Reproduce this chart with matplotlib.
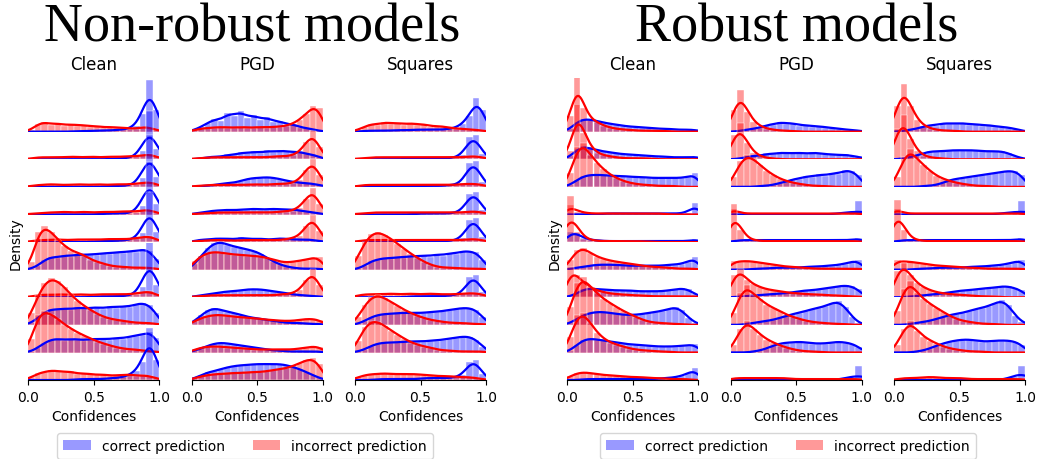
import numpy as np
import pandas as pd
import matplotlib
matplotlib.use("Agg")
import matplotlib.pyplot as plt
from matplotlib.patches import Patch
import seaborn as sns

groups = ["Non-robust models", "Robust models"]
attacks = ["Clean", "PGD", "Squares"]
labels = ["correct prediction", "incorrect prediction"]

# bar heights of 20 confidence bins (0.00-0.05, ..., 0.95-1.00), one list per ridge (10 ridges)
nr_clean_correct = [
    [0, 0, 0, 0, 0, 0, 0, 1, 0, 1, 1, 1, 1, 2, 2, 3, 6, 18, 52, 22],
    [0, 0, 0, 0, 0, 0, 0, 0, 0, 0, 0, 0, 0, 1, 1, 1, 2, 8, 48, 10],
    [0, 0, 0, 0, 0, 0, 0, 0, 0, 0, 0, 0, 1, 1, 1, 1, 2, 9, 52, 10],
    [0, 0, 0, 0, 0, 0, 0, 0, 0, 0, 0, 1, 1, 1, 1, 1, 2, 9, 53, 11],
    [0, 0, 0, 0, 0, 0, 0, 0, 0, 0, 1, 1, 1, 1, 2, 2, 3, 9, 50, 10],
    [1, 4, 10, 13, 12, 15, 13, 16, 14, 16, 15, 17, 16, 18, 17, 19, 18, 21, 19, 11],
    [0, 0, 0, 0, 0, 0, 0, 0, 0, 0, 1, 1, 1, 1, 1, 2, 2, 10, 56, 12],
    [2, 7, 13, 16, 15, 17, 15, 18, 16, 17, 18, 16, 19, 17, 19, 18, 21, 22, 20, 12],
    [1, 5, 10, 13, 14, 12, 14, 13, 12, 14, 13, 14, 13, 15, 14, 16, 17, 18, 21, 15],
    [0, 0, 0, 0, 0, 0, 0, 1, 1, 1, 1, 1, 2, 2, 3, 5, 9, 18, 52, 20],
]
nr_clean_incorrect = [
    [2, 8, 10, 7, 9, 6, 8, 6, 7, 5, 6, 4, 5, 4, 4, 3, 3, 5, 4, 2],
    [1, 2, 2, 2, 2, 2, 3, 2, 2, 3, 2, 2, 3, 2, 3, 3, 3, 4, 5, 3],
    [1, 2, 2, 3, 2, 2, 2, 3, 2, 2, 3, 2, 2, 3, 2, 3, 3, 4, 5, 3],
    [1, 1, 2, 2, 2, 3, 2, 2, 3, 2, 2, 3, 2, 3, 3, 3, 3, 4, 5, 2],
    [1, 2, 2, 2, 3, 2, 2, 3, 2, 3, 2, 3, 3, 3, 3, 3, 4, 5, 6, 3],
    [8, 38, 44, 38, 30, 24, 19, 17, 15, 10, 8, 6, 4, 3, 3, 2, 2, 2, 2, 1],
    [1, 2, 3, 2, 3, 3, 2, 3, 3, 2, 3, 3, 3, 3, 3, 3, 4, 5, 6, 3],
    [12, 30, 42, 47, 44, 38, 30, 24, 19, 15, 11, 8, 6, 5, 4, 3, 2, 2, 2, 1],
    [14, 38, 42, 38, 34, 28, 24, 20, 17, 14, 11, 9, 7, 5, 4, 3, 3, 2, 1, 1],
    [3, 7, 8, 10, 9, 8, 9, 6, 7, 6, 5, 6, 4, 5, 5, 6, 4, 5, 4, 2],
]
nr_pgd_correct = [
    [2, 5, 9, 13, 11, 19, 16, 21, 14, 17, 12, 15, 10, 11, 7, 8, 4, 4, 2, 1],
    [0, 1, 2, 3, 2, 5, 4, 7, 6, 8, 6, 9, 7, 9, 8, 7, 8, 5, 5, 2],
    [0, 1, 1, 2, 3, 4, 4, 6, 8, 9, 9, 10, 9, 8, 6, 5, 4, 4, 3, 2],
    [1, 2, 3, 4, 4, 5, 4, 5, 5, 6, 5, 5, 6, 5, 5, 5, 4, 3, 2, 1],
    [1, 3, 2, 4, 3, 4, 2, 5, 3, 3, 4, 2, 3, 4, 3, 3, 2, 3, 2, 1],
    [6, 14, 22, 27, 28, 25, 23, 22, 20, 19, 16, 12, 8, 5, 3, 2, 1, 1, 1, 1],
    [1, 2, 3, 4, 5, 6, 6, 7, 8, 8, 8, 7, 6, 5, 4, 3, 2, 2, 1, 1],
    [4, 10, 15, 17, 15, 13, 12, 10, 8, 7, 6, 5, 4, 3, 2, 2, 2, 1, 1, 1],
    [2, 4, 7, 9, 10, 9, 8, 7, 6, 5, 4, 3, 2, 2, 1, 1, 1, 1, 1, 1],
    [2, 5, 8, 9, 11, 13, 14, 15, 15, 16, 16, 16, 16, 16, 15, 13, 11, 8, 5, 2],
]
nr_pgd_incorrect = [
    [2, 3, 4, 4, 5, 4, 4, 5, 4, 4, 5, 4, 5, 5, 6, 8, 12, 18, 26, 24],
    [1, 1, 2, 2, 2, 2, 2, 2, 2, 2, 2, 2, 3, 3, 3, 4, 7, 17, 28, 12],
    [1, 1, 2, 2, 2, 2, 2, 2, 2, 3, 2, 2, 3, 3, 3, 4, 7, 17, 28, 12],
    [1, 1, 1, 2, 2, 2, 2, 2, 2, 2, 2, 2, 2, 3, 3, 4, 7, 16, 27, 11],
    [1, 1, 2, 2, 2, 2, 1, 2, 2, 2, 2, 2, 2, 2, 3, 4, 6, 16, 27, 11],
    [9, 14, 17, 18, 17, 16, 15, 15, 14, 14, 13, 12, 10, 8, 7, 8, 9, 10, 12, 13],
    [1, 1, 2, 2, 2, 2, 2, 2, 2, 2, 2, 2, 2, 3, 3, 4, 7, 17, 28, 12],
    [4, 7, 9, 10, 10, 9, 8, 8, 7, 7, 6, 5, 5, 4, 4, 4, 5, 6, 6, 5],
    [3, 5, 6, 6, 6, 5, 5, 4, 4, 3, 3, 3, 3, 3, 3, 3, 4, 5, 6, 6],
    [2, 4, 5, 6, 6, 7, 7, 7, 8, 8, 8, 9, 10, 11, 12, 14, 17, 20, 22, 16],
]
nr_sq_correct = [
    [0, 1, 1, 1, 1, 1, 2, 1, 2, 2, 2, 2, 2, 2, 3, 4, 8, 16, 34, 22],
    [0, 0, 0, 0, 0, 0, 0, 0, 1, 1, 1, 1, 1, 1, 1, 2, 4, 22, 24, 5],
    [0, 0, 0, 0, 0, 0, 0, 0, 1, 1, 1, 1, 1, 1, 2, 2, 4, 24, 26, 5],
    [0, 0, 0, 0, 0, 0, 0, 0, 0, 1, 1, 1, 1, 1, 1, 2, 3, 21, 23, 5],
    [0, 0, 0, 0, 0, 0, 0, 0, 0, 1, 1, 1, 1, 1, 1, 2, 4, 22, 24, 5],
    [1, 4, 9, 10, 12, 11, 13, 12, 14, 13, 15, 13, 16, 14, 17, 16, 19, 18, 18, 10],
    [0, 0, 0, 0, 0, 0, 0, 0, 1, 1, 1, 1, 1, 1, 2, 2, 4, 20, 22, 5],
    [1, 4, 8, 10, 11, 11, 12, 12, 12, 12, 12, 13, 13, 14, 15, 16, 17, 17, 15, 8],
    [1, 3, 7, 9, 10, 10, 10, 11, 11, 11, 11, 12, 12, 13, 14, 15, 16, 16, 13, 6],
    [0, 0, 0, 1, 1, 1, 1, 1, 1, 1, 2, 2, 2, 2, 2, 3, 5, 18, 20, 6],
]
nr_sq_incorrect = [
    [2, 5, 8, 7, 10, 8, 9, 7, 9, 7, 8, 5, 6, 5, 4, 3, 3, 2, 2, 1],
    [1, 1, 2, 2, 2, 2, 2, 2, 2, 2, 2, 2, 2, 2, 2, 2, 2, 3, 3, 2],
    [1, 2, 2, 2, 2, 2, 2, 2, 2, 2, 2, 2, 2, 2, 2, 2, 3, 3, 3, 2],
    [1, 1, 2, 2, 2, 2, 2, 2, 2, 2, 2, 2, 2, 2, 2, 2, 2, 3, 3, 2],
    [1, 2, 2, 2, 2, 2, 2, 2, 2, 2, 2, 2, 2, 2, 2, 2, 2, 3, 3, 2],
    [14, 28, 36, 38, 35, 31, 26, 21, 16, 12, 8, 5, 3, 2, 2, 2, 1, 1, 1, 1],
    [2, 3, 3, 3, 3, 4, 3, 3, 4, 3, 3, 4, 3, 3, 3, 3, 4, 4, 4, 3],
    [8, 20, 28, 30, 27, 23, 19, 15, 12, 9, 7, 5, 4, 3, 2, 2, 2, 1, 1, 1],
    [12, 26, 32, 31, 27, 22, 18, 14, 10, 8, 6, 5, 3, 2, 2, 1, 1, 1, 1, 1],
    [3, 5, 6, 6, 7, 6, 6, 6, 6, 6, 5, 5, 4, 4, 4, 3, 3, 3, 2, 1],
]
r_clean_correct = [
    [3, 10, 13, 12, 11, 9, 8, 7, 6, 5, 5, 4, 4, 3, 3, 3, 2, 2, 2, 2],
    [3, 10, 13, 11, 9, 8, 7, 6, 5, 5, 4, 4, 3, 3, 3, 2, 2, 2, 2, 3],
    [2, 7, 11, 12, 12, 12, 11, 11, 11, 10, 10, 10, 9, 9, 9, 9, 9, 9, 10, 14],
    [0, 0, 0, 0, 0, 1, 1, 1, 1, 1, 1, 1, 1, 1, 1, 1, 1, 1, 2, 12],
    [10, 9, 4, 2, 2, 1, 1, 1, 1, 1, 1, 1, 1, 1, 1, 1, 1, 1, 1, 3],
    [1, 2, 3, 4, 5, 5, 5, 5, 4, 4, 4, 4, 4, 4, 4, 5, 5, 6, 8, 13],
    [1, 4, 8, 9, 8, 8, 7, 7, 7, 7, 6, 6, 6, 6, 6, 7, 8, 9, 8, 3],
    [2, 6, 10, 12, 13, 13, 12, 11, 10, 10, 10, 11, 12, 13, 14, 16, 18, 15, 7, 2],
    [2, 8, 13, 14, 13, 12, 11, 10, 9, 8, 8, 7, 7, 6, 6, 6, 6, 7, 7, 9],
    [0, 0, 1, 1, 1, 1, 1, 1, 1, 1, 1, 1, 1, 1, 2, 2, 3, 4, 7, 12],
]
r_clean_incorrect = [
    [16, 58, 24, 12, 10, 6, 4, 3, 2, 2, 1, 1, 1, 1, 1, 0, 0, 0, 0, 0],
    [8, 60, 26, 12, 6, 4, 3, 2, 1, 1, 1, 1, 1, 0, 0, 0, 0, 0, 0, 0],
    [14, 40, 44, 32, 24, 18, 12, 9, 6, 4, 3, 2, 2, 1, 1, 1, 1, 0, 0, 0],
    [10, 3, 2, 1, 1, 1, 1, 1, 1, 1, 1, 1, 1, 1, 1, 0, 0, 0, 0, 0],
    [46, 10, 3, 2, 1, 1, 1, 1, 1, 1, 1, 1, 0, 0, 0, 0, 0, 0, 0, 0],
    [10, 20, 22, 17, 13, 11, 9, 8, 7, 6, 5, 4, 3, 3, 2, 2, 1, 1, 1, 1],
    [30, 22, 14, 10, 7, 5, 4, 3, 3, 2, 2, 2, 1, 1, 1, 1, 1, 1, 1, 1],
    [18, 42, 48, 38, 32, 26, 22, 18, 14, 11, 8, 5, 3, 2, 2, 1, 1, 1, 0, 0],
    [16, 38, 40, 30, 20, 14, 10, 8, 6, 4, 3, 2, 2, 1, 1, 1, 0, 0, 0, 0],
    [4, 7, 8, 7, 6, 5, 5, 4, 4, 3, 3, 3, 2, 2, 2, 1, 1, 1, 1, 0],
]
r_pgd_correct = [
    [0, 1, 2, 3, 4, 7, 7, 10, 8, 9, 6, 7, 5, 6, 4, 4, 3, 2, 2, 1],
    [0, 1, 2, 4, 3, 6, 5, 7, 6, 6, 7, 5, 7, 6, 5, 5, 4, 5, 3, 3],
    [0, 0, 0, 0, 1, 1, 2, 4, 5, 8, 8, 11, 10, 13, 11, 14, 13, 17, 16, 12],
    [0, 0, 0, 0, 0, 0, 0, 0, 0, 0, 0, 0, 0, 0, 0, 0, 0, 0, 1, 14],
    [1, 2, 2, 2, 2, 2, 2, 2, 2, 2, 2, 2, 2, 2, 2, 2, 2, 2, 2, 4],
    [0, 0, 0, 1, 1, 1, 2, 2, 2, 2, 2, 3, 3, 3, 4, 4, 5, 6, 8, 10],
    [0, 1, 1, 2, 2, 3, 3, 4, 4, 5, 6, 7, 7, 8, 9, 10, 11, 12, 11, 8],
    [0, 0, 1, 2, 3, 4, 5, 7, 9, 11, 12, 14, 16, 17, 19, 22, 24, 18, 8, 2],
    [0, 0, 0, 1, 2, 4, 7, 9, 10, 10, 11, 10, 9, 9, 9, 10, 11, 10, 9, 6],
    [0, 0, 0, 0, 0, 0, 0, 0, 0, 0, 0, 0, 0, 0, 0, 0, 0, 0, 2, 14],
]
r_pgd_incorrect = [
    [22, 42, 20, 10, 5, 3, 2, 1, 1, 1, 0, 0, 0, 0, 0, 0, 0, 0, 0, 0],
    [24, 36, 16, 6, 3, 1, 1, 0, 0, 0, 0, 0, 0, 0, 0, 0, 0, 0, 0, 0],
    [10, 26, 32, 28, 22, 16, 12, 8, 6, 4, 3, 2, 1, 1, 1, 0, 0, 0, 0, 0],
    [6, 1, 1, 1, 1, 1, 1, 1, 1, 1, 1, 1, 1, 1, 1, 1, 1, 1, 1, 1],
    [38, 12, 3, 2, 1, 1, 1, 1, 1, 1, 1, 1, 1, 1, 1, 1, 1, 1, 1, 1],
    [9, 8, 9, 8, 7, 6, 5, 4, 3, 3, 2, 2, 1, 1, 1, 1, 1, 1, 1, 1],
    [22, 28, 17, 13, 10, 8, 7, 6, 5, 4, 4, 3, 3, 3, 2, 2, 2, 1, 1, 1],
    [12, 32, 40, 30, 26, 20, 17, 14, 10, 8, 6, 4, 3, 2, 2, 1, 1, 1, 0, 0],
    [8, 24, 32, 24, 18, 13, 10, 7, 5, 3, 2, 1, 1, 1, 0, 0, 0, 0, 0, 0],
    [2, 2, 2, 2, 2, 2, 2, 2, 2, 1, 1, 1, 1, 1, 1, 1, 1, 1, 1, 1],
]
r_sq_correct = [
    [0, 1, 2, 3, 5, 7, 6, 9, 8, 8, 9, 7, 8, 6, 7, 5, 5, 4, 3, 1],
    [0, 1, 2, 4, 6, 8, 8, 8, 9, 9, 9, 9, 9, 8, 8, 8, 8, 6, 3, 1],
    [0, 0, 0, 0, 1, 1, 2, 4, 7, 8, 9, 10, 11, 12, 13, 14, 15, 16, 16, 12],
    [0, 0, 0, 0, 0, 0, 0, 0, 0, 0, 0, 0, 0, 0, 0, 0, 0, 0, 1, 14],
    [1, 2, 2, 2, 2, 2, 2, 2, 2, 2, 2, 2, 2, 2, 2, 2, 2, 2, 2, 4],
    [0, 0, 0, 1, 1, 1, 2, 2, 2, 2, 2, 3, 3, 3, 4, 4, 5, 6, 8, 10],
    [0, 0, 1, 1, 2, 3, 3, 4, 5, 6, 7, 7, 8, 9, 9, 10, 11, 11, 9, 7],
    [0, 0, 1, 2, 3, 4, 6, 8, 10, 11, 12, 14, 16, 17, 19, 22, 25, 20, 9, 3],
    [0, 0, 0, 1, 2, 4, 7, 9, 11, 12, 13, 13, 12, 11, 11, 12, 12, 12, 11, 8],
    [0, 0, 0, 0, 0, 0, 0, 0, 0, 0, 0, 0, 0, 0, 0, 0, 0, 1, 3, 14],
]
r_sq_incorrect = [
    [26, 48, 26, 12, 6, 3, 2, 1, 1, 1, 0, 0, 0, 0, 0, 0, 0, 0, 0, 0],
    [30, 44, 20, 8, 3, 2, 1, 1, 0, 0, 0, 0, 0, 0, 0, 0, 0, 0, 0, 0],
    [10, 30, 38, 28, 22, 16, 11, 8, 6, 4, 3, 2, 1, 1, 1, 0, 0, 0, 0, 0],
    [6, 1, 1, 1, 1, 1, 1, 1, 1, 1, 1, 1, 1, 1, 1, 1, 1, 1, 1, 1],
    [42, 12, 3, 2, 1, 1, 1, 1, 1, 1, 1, 1, 1, 1, 1, 1, 1, 1, 1, 1],
    [10, 8, 8, 7, 6, 5, 4, 4, 3, 3, 2, 2, 2, 1, 1, 1, 1, 1, 1, 1],
    [26, 34, 22, 14, 10, 7, 5, 4, 3, 3, 2, 2, 1, 1, 1, 1, 0, 0, 0, 0],
    [14, 36, 44, 32, 26, 21, 17, 13, 9, 6, 4, 3, 2, 1, 1, 1, 0, 0, 0, 0],
    [8, 24, 32, 22, 16, 12, 9, 6, 4, 3, 2, 1, 1, 1, 0, 0, 0, 0, 0, 0],
    [1, 2, 2, 2, 3, 3, 3, 2, 2, 2, 2, 1, 1, 1, 1, 1, 1, 1, 1, 1],
]

panels = [
    [(nr_clean_correct, nr_clean_incorrect), (nr_pgd_correct, nr_pgd_incorrect), (nr_sq_correct, nr_sq_incorrect)],
    [(r_clean_correct, r_clean_incorrect), (r_pgd_correct, r_pgd_incorrect), (r_sq_correct, r_sq_incorrect)],
]

NBINS = 20
centers = (np.arange(NBINS) + 0.5) / NBINS
BW = 0.04  # kde bandwidth in confidence units

W, H = 1039, 460
col_left = [[28.3, 191.7, 355.0], [567.3, 730.7, 894.0]]
col_w = 131
top_base = 132.7
step = 27.6
ridge_h = 54


def ridge(ax, heights, color):
    df = pd.DataFrame({"conf": centers, "w": np.asarray(heights, dtype=float)})
    mu = np.average(df["conf"], weights=df["w"])
    sd = np.sqrt(np.average((df["conf"] - mu) ** 2, weights=df["w"]))
    sns.histplot(data=df, x="conf", weights="w", bins=NBINS, binrange=(0, 1), stat="count",
                 color=color, alpha=0.4, edgecolor="white", linewidth=0.3, kde=True,
                 kde_kws={"bw_method": BW / sd, "cut": 2},
                 line_kws={"linewidth": 1.6}, ax=ax)


fig = plt.figure(figsize=(W / 100, H / 100), dpi=100)

for g in range(2):
    for c in range(3):
        correct, incorrect = panels[g][c]
        for k in range(10):
            base = top_base + step * k
            ax = fig.add_axes([col_left[g][c] / W, 1 - base / H, col_w / W, ridge_h / H])
            ax.patch.set_alpha(0)
            ridge(ax, correct[k], "blue")
            ridge(ax, incorrect[k], "red")
            ax.set_xlim(0, 1)
            ax.set_ylim(0, ridge_h)
            ax.set_ylabel("")
            ax.set_yticks([])
            for s in ["left", "right", "top"]:
                ax.spines[s].set_visible(False)
            if k == 0:
                ax.set_title(attacks[c], fontsize=12)
            if k < 9:
                ax.spines["bottom"].set_visible(False)
                ax.set_xticks([])
                ax.set_xlabel("")
            else:
                ax.set_xticks([0, 0.5, 1.0])
                ax.set_xticklabels(["0.0", "0.5", "1.0"], fontsize=10)
                ax.set_xlabel("Confidences", fontsize=10)
            if c == 0 and k == 5:
                ax.set_ylabel("Density", fontsize=10)

title_x = [252, 797]
legend_x = [245, 788]
for g in range(2):
    fig.text(title_x[g] / W, 1 - 42 / H, groups[g], fontsize=39,
             family="Liberation Serif", ha="center", va="baseline")
    handles = [Patch(facecolor="blue", alpha=0.4, edgecolor="none"),
               Patch(facecolor="red", alpha=0.4, edgecolor="none")]
    fig.legend(handles, labels, loc="center", bbox_to_anchor=(legend_x[g] / W, 1 - 447 / H),
               ncol=2, fontsize=10)

fig.savefig("out.png", dpi=100)
